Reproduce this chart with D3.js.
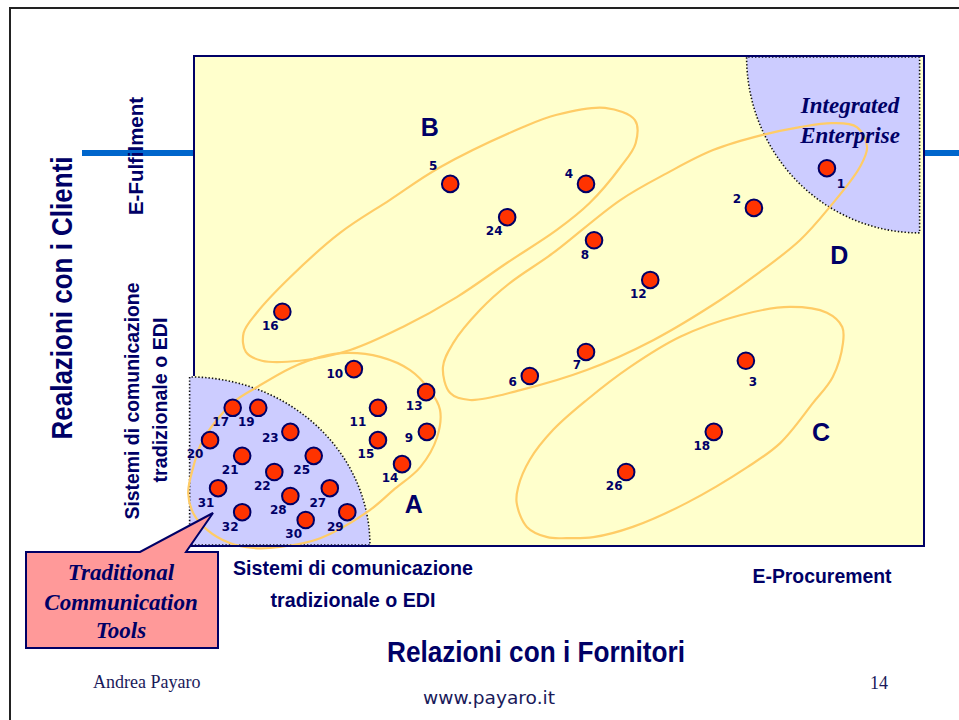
<!DOCTYPE html>
<html>
<head>
<meta charset="utf-8">
<script src="https://cdn.jsdelivr.net/npm/d3@7"></script>
<style>
  html, body { margin: 0; padding: 0; background: #ffffff; }
  svg { display: block; }
</style>
</head>
<body>
<svg id="chart" width="959" height="720"></svg>
<script>
// Companies placed by their level of supplier-side (x) and customer-side (y) integration, 0–100
const companyIds = d3.range(1, 33);
const supplierScore = [86.7, 76.7, 75.6, 53.7, 35.1, 46.0, 53.7, 54.8, 31.9, 21.9, 25.2, 62.5, 31.8, 28.5, 25.2, 12.1,
                       5.3, 71.2, 8.8, 2.2, 6.6, 11.0, 13.2, 42.9, 16.4, 59.2, 18.6, 13.2, 21.0, 15.3, 3.3, 6.6];
const customerScore = [77.1, 69.0, 37.8, 73.9, 73.9, 34.7, 39.6, 62.4, 23.3, 36.1, 28.2, 54.3, 31.4, 16.7, 21.6, 47.8,
                       28.2, 23.3, 28.2, 21.6, 18.4, 15.1, 23.3, 67.1, 18.4, 15.1, 11.8, 10.2, 6.9, 5.3, 11.8, 6.9];

// Cluster names and where their letters sit
const clusterNames = ["A", "B", "C", "D"];
const clusterLabelX = [30.1, 32.3, 85.9, 88.4];
const clusterLabelY = [8.6, 85.5, 23.3, 59.4];

// Hand-drawn cluster outlines, in the same 0–100 units
const outlineA = [[21.0,39.4],[25.5,38.6],[29.6,35.9],[32.3,31.8],[33.7,27.8],[33.3,22.2],[31.0,16.1],[27.3,11.4],[23.7,6.9],
                  [17.3,1.6],[11.8,-0.2],[8.1,-0.4],[4.9,0.6],[1.8,3.3],[-0.1,6.7],[-0.8,10.8],[-0.1,16.1],[1.2,21.6],
                  [5.3,29.2],[8.6,32.4],[13.2,36.3],[17.3,38.6]];
const outlineB = [[56.3,89.4],[60.4,86.9],[60.5,82.2],[58.4,77.3],[54.2,70.0],[49.7,64.5],[42.9,57.8],[36.0,50.8],[28.6,44.7],
                  [21.4,40.0],[14.5,37.8],[9.3,37.8],[7.1,39.6],[6.8,43.5],[8.6,47.6],[13.2,54.9],[20.0,63.9],[26.8,70.6],
                  [33.7,77.3],[45.1,85.5],[49.7,88.0]];
const outlineC = [[81.6,48.8],[86.7,47.6],[88.8,44.7],[88.9,41.4],[87.5,34.5],[84.8,29.2],[80.3,21.0],[75.8,16.1],[67.5,8.8],
                  [60.1,3.9],[54.7,1.8],[51.1,1.6],[48.4,1.8],[45.6,3.9],[44.2,8.8],[44.4,12.0],[46.0,17.6],[49.2,23.7],
                  [53.8,29.8],[59.7,36.5],[66.6,42.7],[74.8,47.1]];
const outlineD = [[34.1,36.5],[35.5,41.4],[39.2,48.2],[43.3,53.7],[49.2,59.8],[58.4,70.6],[64.8,76.1],[71.1,80.8],[77.9,83.9],
                  [83.0,85.5],[87.5,86.3],[90.8,85.5],[92.2,81.4],[91.2,77.3],[87.1,69.2],[83.0,62.4],[76.6,54.9],[72.1,50.2],
                  [62.9,42.0],[53.8,35.9],[44.7,31.8],[37.8,29.8],[35.1,31.2]];

// Corner zones: corner point and radii (0–100 units)
const zoneNames = ["Traditional", "Integrated"];
const zoneCornerX = [-0.6, 99.4];
const zoneCornerY = [0.2, 99.8];
const zoneRadiusX = [24.7, 23.7];
const zoneRadiusY = [34.3, 35.9];

// Axis end labels and titles
const xLowLabel = ["Sistemi di comunicazione", "tradizionale o EDI"];
const xHighLabel = ["E-Procurement"];
const yLowLabel = ["Sistemi di comunicazione", "tradizionale o EDI"];
const yHighLabel = ["E-Fulfilment"];
const xTitle = "Relazioni con i Fornitori";
const yTitle = "Realazioni con i Clienti";
const fulfilmentLevel = 80.2;

const NAVY = "#000066";
const svg = d3.select("#chart");

const x = d3.scaleLinear().domain([0, 100]).range([194, 924]);
const y = d3.scaleLinear().domain([0, 100]).range([546, 56]);

// slide frame
svg.append("path")
  .attr("d", "M10,720 V8 H959")
  .attr("fill", "none").attr("stroke", "#222").attr("stroke-width", 2);

// blue E-Fulfilment level bar on both sides of the plot
svg.append("line").attr("x1", 82).attr("x2", x(0)).attr("y1", y(fulfilmentLevel)).attr("y2", y(fulfilmentLevel))
  .attr("stroke", "#0066CC").attr("stroke-width", 6);
svg.append("line").attr("x1", x(100)).attr("x2", 959).attr("y1", y(fulfilmentLevel)).attr("y2", y(fulfilmentLevel))
  .attr("stroke", "#0066CC").attr("stroke-width", 6);

// plot background
svg.append("rect").attr("x", x(0)).attr("y", y(100)).attr("width", x(100) - x(0)).attr("height", y(0) - y(100))
  .attr("fill", "#FFFFCC");

// quarter-ellipse zones
zoneNames.forEach((name, i) => {
  const cx = x(zoneCornerX[i]), cy = y(zoneCornerY[i]);
  const rx = x(zoneRadiusX[i]) - x(0), ry = y(0) - y(zoneRadiusY[i]);
  let d;
  if (i === 0) {
    d = `M${cx},${cy} L${cx},${cy - ry} A${rx},${ry} 0 0 1 ${cx + rx},${cy} Z`;
  } else {
    d = `M${cx},${cy} L${cx - rx},${cy} A${rx},${ry} 0 0 0 ${cx},${cy + ry} Z`;
  }
  svg.append("path").attr("d", d)
    .attr("fill", "#CCCCFF")
    .attr("stroke", "#111").attr("stroke-width", 1.6).attr("stroke-dasharray", "1.4,2");
});

// cluster outlines
const outline = d3.line().x(d => x(d[0])).y(d => y(d[1])).curve(d3.curveCatmullRomClosed.alpha(0.5));
[outlineA, outlineB, outlineC, outlineD].forEach(pts => {
  svg.append("path").attr("d", outline(pts))
    .attr("fill", "none").attr("stroke", "#FFCC66").attr("stroke-width", 2.2);
});

// plot border (left side hidden under the traditional zone)
svg.append("path")
  .attr("d", `M${x(0)},${y(0) - (y(0) - y(zoneRadiusY[0])) - 2} V${y(100)} H${x(100)} V${y(0)} H${x(0) - 6}`)
  .attr("fill", "none").attr("stroke", NAVY).attr("stroke-width", 2);

// cluster letters
clusterNames.forEach((n, i) => {
  svg.append("text").attr("x", x(clusterLabelX[i])).attr("y", y(clusterLabelY[i])).attr("dy", "0.36em")
    .attr("text-anchor", "middle")
    .attr("font-family", "'Liberation Sans', Arial, sans-serif").attr("font-weight", "bold")
    .attr("font-size", 25).attr("fill", NAVY).text(n);
});

// zone caption
const ie = svg.append("text").attr("text-anchor", "middle")
  .attr("font-family", "'Liberation Serif', 'Times New Roman', serif")
  .attr("font-weight", "bold").attr("font-style", "italic").attr("font-size", 23).attr("fill", NAVY);
ie.append("tspan").attr("x", 850).attr("y", 113).text("Integrated");
ie.append("tspan").attr("x", 850).attr("y", 143).text("Enterprise");

// company markers
const companies = companyIds.map((id, i) => ({ id, sx: supplierScore[i], cy: customerScore[i] }));
const labelOffset = {
  1: [14, 15], 2: [-17, -9], 3: [7, 21], 4: [-17, -10], 5: [-17, -18], 6: [-17, 6], 7: [-9, 13], 8: [-9, 14],
  9: [-18, 6], 10: [-19, 5], 11: [-20, 14], 20: [-15, 14], 23: [-20, 6], 24: [-13, 13]
};
svg.append("g").selectAll("circle").data(companies).join("circle")
  .attr("cx", d => x(d.sx)).attr("cy", d => y(d.cy)).attr("r", 8.3)
  .attr("fill", "#FF3300").attr("stroke", NAVY).attr("stroke-width", 2);
svg.append("g").selectAll("text").data(companies).join("text")
  .attr("x", d => x(d.sx) + (labelOffset[d.id] || [-12, 14])[0])
  .attr("y", d => y(d.cy) + (labelOffset[d.id] || [-12, 14])[1])
  .attr("dy", "0.36em").attr("text-anchor", "middle")
  .attr("font-family", "'DejaVu Sans', Verdana, sans-serif").attr("font-weight", "bold")
  .attr("font-size", 12).attr("fill", NAVY)
  .text(d => d.id);

// callout
svg.append("path")
  .attr("d", "M26,552 H140 L213,513 L186,552 H218 V648 H26 Z")
  .attr("fill", "#FF9999").attr("stroke", NAVY).attr("stroke-width", 2);
const tct = svg.append("text").attr("text-anchor", "middle")
  .attr("font-family", "'Liberation Serif', 'Times New Roman', serif")
  .attr("font-weight", "bold").attr("font-style", "italic").attr("font-size", 23).attr("fill", NAVY);
tct.append("tspan").attr("x", 121).attr("y", 580).text("Traditional");
tct.append("tspan").attr("x", 121).attr("y", 610).text("Communication");
tct.append("tspan").attr("x", 121).attr("y", 638).text("Tools");

// axis texts
const sans = "'Liberation Sans', Arial, sans-serif";
function label(txt, px, py, size, len, rot) {
  const t = svg.append("text")
    .attr("transform", `translate(${px},${py})` + (rot ? " rotate(-90)" : ""))
    .attr("text-anchor", "middle").attr("font-family", sans).attr("font-weight", "bold")
    .attr("font-size", size).attr("fill", NAVY).text(txt);
  if (len) t.attr("textLength", len).attr("lengthAdjust", "spacingAndGlyphs");
  return t;
}
label(xLowLabel[0], 353, 575, 21, 240, false);
label(xLowLabel[1], 353, 607, 21, 165, false);
label(xHighLabel[0], 822, 583, 21, 139, false);
label(xTitle, 536, 662, 29, 298, false);

label(yTitle, 72, 298, 29, 283, true);
label(yHighLabel[0], 143, 156, 20, 118, true);
label(yLowLabel[0], 139, 401, 21, 237, true);
label(yLowLabel[1], 167, 400, 21, 165, true);

// footer
svg.append("text").attr("x", 93).attr("y", 688)
  .attr("font-family", "'Liberation Serif', 'Times New Roman', serif").attr("font-size", 18)
  .attr("fill", "#1a1a5a").text("Andrea Payaro");
svg.append("text").attr("x", 870).attr("y", 689)
  .attr("font-family", "'Liberation Serif', 'Times New Roman', serif").attr("font-size", 18)
  .attr("fill", "#1a1a5a").text("14");
svg.append("text").attr("x", 489).attr("y", 704).attr("text-anchor", "middle")
  .attr("font-family", "'DejaVu Sans', Verdana, sans-serif").attr("font-size", 17)
  .attr("textLength", 132).attr("lengthAdjust", "spacingAndGlyphs")
  .attr("fill", "#1a1a5a").text("www.payaro.it");
</script>
</body>
</html>
